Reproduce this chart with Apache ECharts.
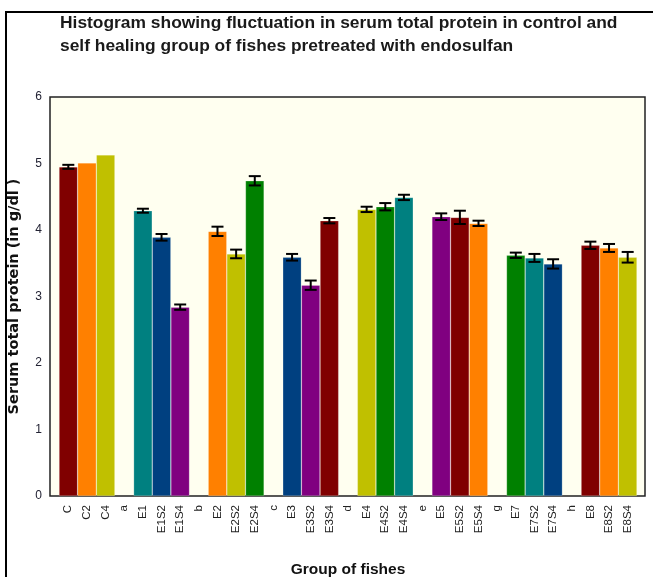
<!DOCTYPE html>
<html>
<head>
<meta charset="utf-8">
<script src="https://cdn.jsdelivr.net/npm/echarts@6/dist/echarts.min.js"></script>
<style>html,body{margin:0;padding:0;background:#fff}#c{width:653px;height:577px}</style>
</head>
<body>
<div id="c"></div>
<script>
const categories = ['C','C2','C4','a','E1','E1S2','E1S4','b','E2','E2S2','E2S4','c','E3','E3S2','E3S4','d','E4','E4S2','E4S4','e','E5','E5S2','E5S4','g','E7','E7S2','E7S4','h','E8','E8S2','E8S4'];
const values = [4.95,5.01,5.13,null,4.29,3.89,2.84,null,3.98,3.64,4.74,null,3.59,3.17,4.14,null,4.31,4.35,4.49,null,4.20,4.19,4.10,null,3.62,3.58,3.49,null,3.77,3.73,3.59];
const errors = [0.03,0,0,null,0.03,0.05,0.04,null,0.07,0.065,0.07,null,0.05,0.07,0.04,null,0.04,0.055,0.04,null,0.05,0.1,0.04,null,0.04,0.06,0.07,null,0.055,0.06,0.08];
const palette = ['#800000','#FF8000','#C0C000','#008000','#008080','#004080','#800080'];
const yTicks = [0,1,2,3,4,5,6];

const chart = echarts.init(document.getElementById('c'));
const barData = values.map((v,i)=>({value:v, itemStyle:{color:palette[i%7]}}));
const errData = values.map((v,i)=> (v==null||!errors[i]) ? null : [i, v-errors[i], v+errors[i]]).filter(d=>d);

chart.setOption({
  animation:false,
  backgroundColor:'#fff',
  title:{
    text:'Histogram showing fluctuation in serum total protein in control and\nself healing group of fishes pretreated with endosulfan',
    left:55, top:7,
    textStyle:{fontFamily:'Liberation Sans', fontWeight:'bold', fontSize:17.4, color:'#1a1a1a', lineHeight:23}
  },
  graphic:[{type:'rect', shape:{x:6,y:12,width:700,height:640}, style:{fill:null, stroke:'#000', lineWidth:2}, silent:true}],
  grid:[
    {left:50, top:97, width:595, height:399, show:true, backgroundColor:'#FFFFF0', borderColor:'#222', borderWidth:1.5, outerBoundsMode:'none', containLabel:false},
    {left:59, top:97, width:578, height:399, outerBoundsMode:'none', containLabel:false}
  ],
  xAxis:[
    {gridIndex:0, type:'value', show:false, min:0, max:1},
    {gridIndex:1, type:'category', data:categories,
     axisLine:{show:false}, axisTick:{show:false},
     axisLabel:{rotate:90, interval:0, margin:9, fontFamily:'Liberation Sans', fontSize:11.5, color:'#222'},
     name:'Group of fishes', nameLocation:'middle', nameGap:66,
     nameTextStyle:{fontFamily:'Liberation Sans', fontWeight:'bold', fontSize:15.5, color:'#111'}}
  ],
  yAxis:[
    {gridIndex:0, type:'value', show:false, min:0, max:1},
    {gridIndex:1, type:'value', min:0, max:6, interval:1, offset:9,
     axisLine:{show:false}, axisTick:{show:false}, splitLine:{show:false},
     axisLabel:{margin:8, fontFamily:'Liberation Sans', fontSize:12, color:'#223',
       formatter:v=> yTicks.includes(v)? String(v):''},
     name:'Serum total protein (in g/dl )', nameLocation:'middle', nameGap:28, nameRotate:90,
     nameTextStyle:{fontFamily:'DejaVu Sans', fontWeight:'bold', fontSize:14.5, color:'#111'}}
  ],
  series:[
    {type:'bar', xAxisIndex:1, yAxisIndex:1, data:barData, barCategoryGap:'0%',
     itemStyle:{borderColor:'rgba(255,255,255,0.35)', borderWidth:0.6}},
    {type:'custom', xAxisIndex:1, yAxisIndex:1, data:errData, z:10,
     renderItem:function(params, api){
       const x = api.value(0);
       const lo = api.coord([x, api.value(1)]);
       const hi = api.coord([x, api.value(2)]);
       const hw = 6;
       const st = {stroke:'#000', lineWidth:2};
       return {type:'group', children:[
         {type:'line', shape:{x1:lo[0],y1:lo[1],x2:hi[0],y2:hi[1]}, style:st},
         {type:'line', shape:{x1:lo[0]-hw,y1:lo[1],x2:lo[0]+hw,y2:lo[1]}, style:st},
         {type:'line', shape:{x1:hi[0]-hw,y1:hi[1],x2:hi[0]+hw,y2:hi[1]}, style:st}
       ]};
     }}
  ]
});
</script>
</body>
</html>
